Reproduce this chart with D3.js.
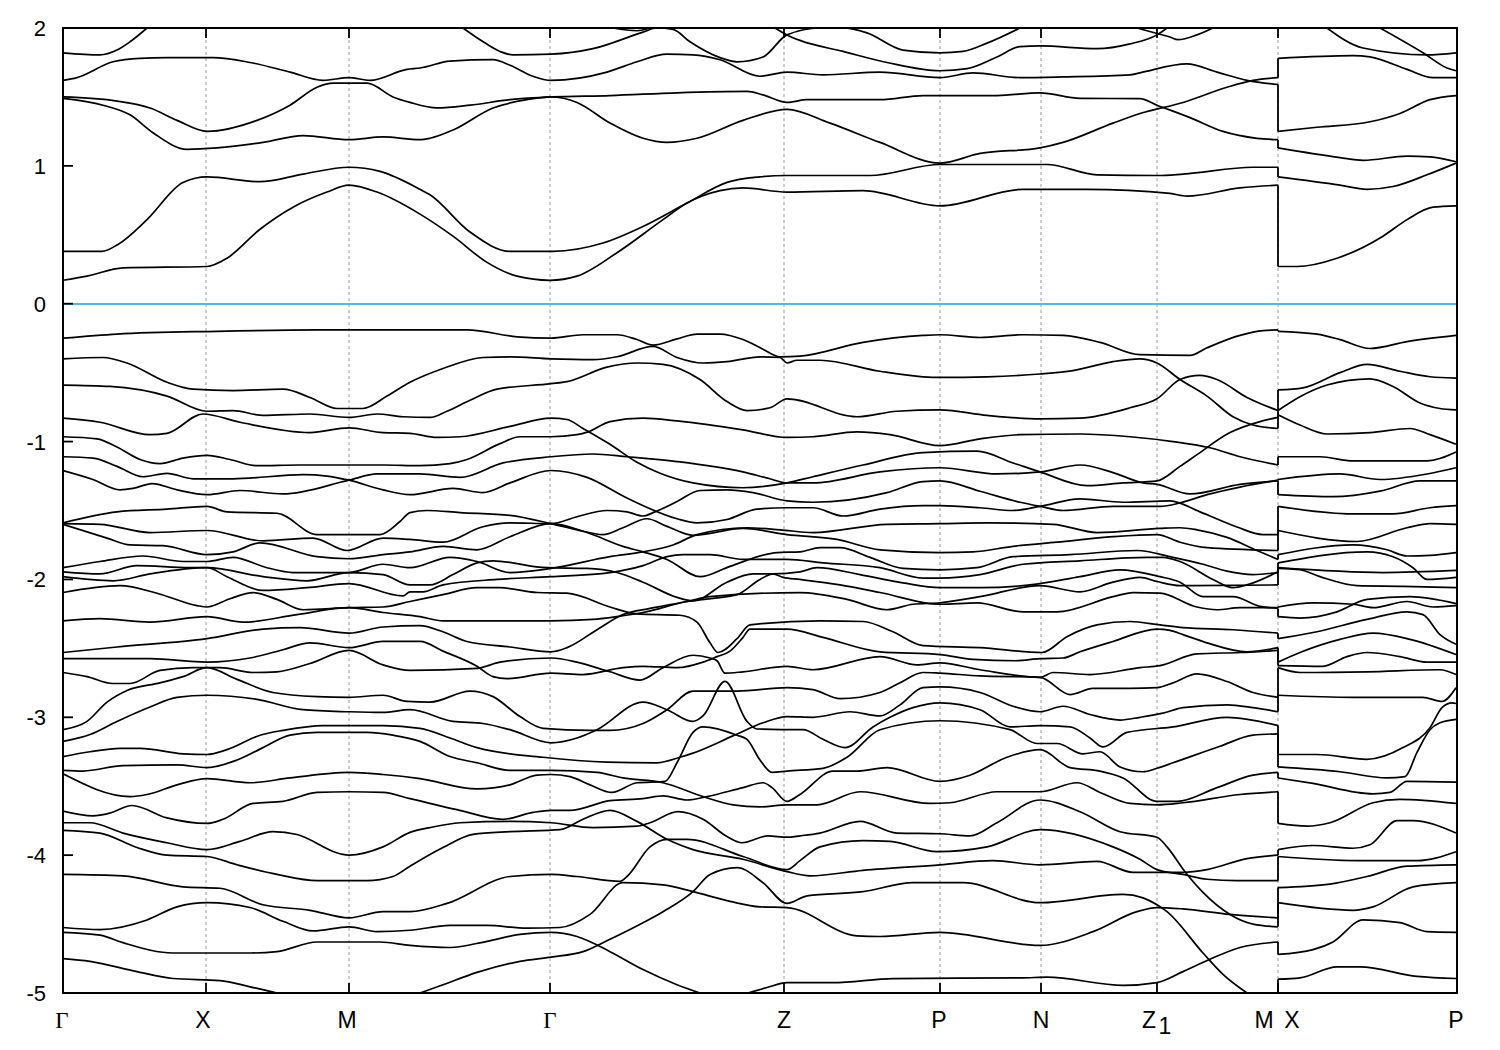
<!DOCTYPE html>
<html><head><meta charset="utf-8">
<script src="https://cdn.jsdelivr.net/npm/d3@7"></script>
<style>html,body{margin:0;background:#fff}svg{display:block}</style></head>
<body><div id="chart"></div>
<script>
// k = distance along the path, E = energy
const kTicks=[0,143,286,487,721,877,978,1094,1215];
const kLabels=["Γ","X","M","Γ","Z","P","N","Z","M"];
const eTicks=[2,1,0,-1,-2,-3,-4,-5];
const kJump=1215, kEnd=1393;
const c1=[[0,.17],[24,.2],[60,.26],[144,.27],[164,.33],[197,.54],[230,.7],[264,.81],[286,.86],[314,.81],[357,.65],[390,.49],[424,.3],[454,.2],[487,.17],[514,.2],[554,.37],[600,.61],[624,.73],[657,.82],[680,.84],[724,.81],[800,.82],[877,.71],[960,.83],[1024,.83],[1107,.8],[1124,.78],[1177,.84],[1215,.86]];
const c2=[[0,.38],[39,.38],[55,.43],[84,.61],[120,.88],[144,.92],[197,.885],[240,.94],[286,.99],[317,.96],[357,.83],[367,.79],[407,.52],[447,.38],[490,.38],[540,.44],[580,.56],[624,.73],[664,.88],[697,.92],[724,.93],[807,.93],[877,1.01],[984,1.01],[1034,.935],[1094,.93],[1120,.94],[1190,.99],[1215,.99]];
const c3=[[0,1.49],[40,1.44],[67,1.37],[90,1.24],[124,1.12],[154,1.13],[200,1.17],[240,1.22],[286,1.19],[320,1.21],[357,1.19],[367,1.2],[390,1.26],[430,1.42],[464,1.48],[488,1.5],[514,1.46],[547,1.31],[580,1.2],[604,1.17],[634,1.2],[680,1.33],[724,1.41],[767,1.31],[817,1.17],[877,1.02],[917,1.09],[977,1.13],[1000,1.17],[1050,1.31],[1077,1.38],[1120,1.46],[1164,1.57],[1190,1.62],[1215,1.64]];
const c4=[[0,1.5],[54,1.47],[87,1.42],[114,1.33],[144,1.25],[194,1.33],[227,1.44],[254,1.57],[270,1.6],[304,1.6],[330,1.5],[347,1.46],[374,1.42],[407,1.44],[447,1.48],[488,1.5],[547,1.51],[614,1.53],[684,1.54],[700,1.515],[724,1.46],[744,1.48],[817,1.48],[860,1.51],[934,1.51],[977,1.53],[1017,1.49],[1077,1.487],[1094,1.44],[1127,1.35],[1160,1.25],[1194,1.2],[1215,1.19]];
const c5=[[0,1.62],[14,1.64],[50,1.755],[77,1.78],[104,1.785],[150,1.785],[187,1.75],[227,1.68],[260,1.62],[286,1.64],[307,1.62],[344,1.7],[357,1.71],[387,1.76],[430,1.77],[447,1.73],[470,1.65],[488,1.62],[544,1.68],[574,1.755],[604,1.81],[630,1.805],[657,1.77],[697,1.65],[724,1.68],[760,1.66],[817,1.68],[877,1.64],[910,1.675],[957,1.64],[1000,1.645],[1067,1.66],[1077,1.675],[1124,1.74],[1154,1.68],[1184,1.62],[1215,1.59]];
const c6a=[[0,1.82],[37,1.805],[54,1.84],[67,1.9],[84,2]];
const c6b=[[400,2],[417,1.915],[437,1.83],[450,1.805],[488,1.81],[530,1.85],[580,1.97],[594,2],[610,1.99],[627,1.9],[657,1.785],[674,1.755],[700,1.79],[724,1.95],[757,2],[780,2],[804,1.965],[840,1.84],[877,1.82],[900,1.83],[924,1.89],[957,2]];
const c7=[[712,2],[724,1.95],[737,1.91],[780,1.83],[824,1.75],[877,1.69],[904,1.705],[934,1.79],[957,1.865],[977,1.87],[1034,1.85],[1067,1.885],[1094,1.95],[1104,2]];
const c8=[[1074,2],[1094,1.96],[1107,1.935],[1115,1.915],[1134,1.95],[1150,2]];
const c9=[[550,2],[574,1.98],[587,2]];
const v1=[[0,-.25],[54,-.22],[154,-.2],[254,-.19],[404,-.19],[454,-.24],[488,-.25],[520,-.225],[554,-.225],[574,-.26],[590,-.3],[614,-.255],[634,-.22],[657,-.22],[680,-.26],[700,-.33],[717,-.385],[737,-.38],[800,-.28],[860,-.23],[877,-.225],[917,-.245],[960,-.225],[1000,-.23],[1037,-.28],[1077,-.37],[1127,-.375],[1144,-.32],[1177,-.23],[1200,-.195],[1215,-.19]];
const v2=[[0,-.4],[40,-.39],[64,-.43],[104,-.57],[130,-.62],[170,-.63],[220,-.62],[247,-.68],[274,-.76],[300,-.76],[324,-.67],[347,-.57],[380,-.47],[420,-.39],[447,-.385],[488,-.4],[530,-.406],[554,-.385],[590,-.31],[614,-.39],[640,-.43],[664,-.42],[697,-.385],[717,-.39],[724,-.43],[734,-.41],[757,-.41],[817,-.49],[860,-.53],[877,-.535],[924,-.53],[977,-.51],[1010,-.485],[1050,-.42],[1077,-.4],[1094,-.43],[1117,-.55],[1144,-.67],[1170,-.82],[1190,-.88],[1215,-.905]];
const v3=[[0,-.59],[47,-.6],[104,-.67],[144,-.78],[170,-.775],[200,-.81],[247,-.8],[286,-.825],[314,-.8],[340,-.82],[367,-.825],[384,-.78],[407,-.7],[434,-.62],[488,-.58],[504,-.565],[544,-.46],[574,-.43],[600,-.44],[637,-.55],[664,-.71],[684,-.775],[707,-.755],[724,-.69],[794,-.82],[834,-.78],[877,-.77],[924,-.81],[977,-.835],[1017,-.83],[1067,-.755],[1094,-.69],[1117,-.55],[1137,-.52],[1154,-.55],[1184,-.68],[1215,-.775]];
const v4=[[0,-.83],[37,-.86],[87,-.95],[104,-.94],[140,-.8],[177,-.86],[247,-.935],[286,-.9],[320,-.935],[347,-.94],[374,-.97],[397,-.965],[447,-.89],[488,-.83],[504,-.84],[520,-.905],[547,-1.02],[574,-1.15],[597,-1.23],[630,-1.3],[680,-1.335],[724,-1.3],[750,-1.255],[800,-1.17],[860,-1.08],[914,-1.07],[950,-1.155],[977,-1.22],[1024,-1.32],[1060,-1.3],[1094,-1.285],[1117,-1.18],[1134,-1.095],[1167,-.935],[1197,-.855],[1215,-.825]];
const v5=[[0,-.965],[34,-.98],[54,-1.04],[77,-1.13],[97,-1.16],[120,-1.12],[144,-1.1],[167,-1.13],[194,-1.175],[237,-1.17],[320,-1.17],[357,-1.175],[387,-1.16],[404,-1.13],[437,-1.015],[457,-.965],[488,-.965],[514,-.95],[525,-.93],[547,-.855],[580,-.83],[614,-.85],[680,-.915],[724,-.97],[750,-.965],[794,-.93],[827,-.95],[877,-1.03],[917,-.98],[957,-.95],[1017,-.945],[1067,-.965],[1110,-1],[1147,-1.045],[1177,-1.11],[1215,-1.17]];
const v6=[[0,-1.11],[30,-1.12],[54,-1.18],[80,-1.255],[104,-1.23],[130,-1.27],[170,-1.27],[240,-1.24],[264,-1.25],[286,-1.28],[320,-1.35],[347,-1.385],[390,-1.34],[420,-1.37],[447,-1.3],[488,-1.21],[524,-1.26],[564,-1.41],[614,-1.56],[634,-1.59],[664,-1.565],[694,-1.49],[724,-1.48],[750,-1.48],[780,-1.54],[817,-1.49],[860,-1.465],[877,-1.465],[917,-1.48],[950,-1.5],[977,-1.47],[1017,-1.415],[1060,-1.44],[1107,-1.43],[1137,-1.51],[1174,-1.62],[1200,-1.675],[1215,-1.675]];
const v7=[[0,-1.21],[30,-1.275],[57,-1.35],[70,-1.34],[89,-1.305],[114,-1.35],[144,-1.385],[177,-1.355],[220,-1.38],[286,-1.28],[314,-1.235],[357,-1.235],[397,-1.26],[440,-1.155],[488,-1.11],[530,-1.09],[564,-1.11],[614,-1.145],[680,-1.22],[707,-1.27],[724,-1.3],[750,-1.3],[817,-1.22],[877,-1.19],[934,-1.235],[977,-1.22],[1017,-1.17],[1050,-1.225],[1080,-1.3],[1094,-1.31],[1127,-1.38],[1177,-1.31],[1215,-1.285]];
const v8=[[0,-1.59],[54,-1.51],[104,-1.49],[144,-1.47],[164,-1.51],[214,-1.52],[254,-1.675],[317,-1.675],[337,-1.58],[347,-1.515],[364,-1.5],[397,-1.515],[447,-1.535],[488,-1.595],[514,-1.64],[540,-1.675],[560,-1.625],[584,-1.56],[604,-1.615],[630,-1.68],[680,-1.63],[724,-1.675],[774,-1.71],[817,-1.785],[877,-1.805],[910,-1.8],[950,-1.76],[994,-1.73],[1050,-1.69],[1094,-1.675],[1117,-1.73],[1144,-1.77],[1215,-1.79]];
const v9=[[0,-1.595],[37,-1.6],[87,-1.66],[144,-1.645],[200,-1.72],[250,-1.7],[284,-1.79],[320,-1.7],[347,-1.71],[380,-1.73],[419,-1.62],[447,-1.59],[488,-1.595],[514,-1.545],[544,-1.5],[564,-1.51],[580,-1.54],[592,-1.51],[614,-1.435],[637,-1.355],[664,-1.35],[690,-1.37],[724,-1.43],[750,-1.44],[824,-1.37],[860,-1.29],[877,-1.285],[917,-1.36],[957,-1.44],[977,-1.47],[1000,-1.5],[1050,-1.47],[1097,-1.47],[1117,-1.445],[1144,-1.385],[1177,-1.33],[1215,-1.28]];
const v10=[[0,-1.6],[44,-1.7],[67,-1.75],[100,-1.755],[144,-1.82],[170,-1.8],[197,-1.735],[254,-1.835],[286,-1.85],[320,-1.82],[347,-1.8],[380,-1.76],[414,-1.785],[447,-1.69],[488,-1.595],[524,-1.66],[560,-1.76],[580,-1.8],[604,-1.855],[637,-1.98],[667,-1.905],[714,-1.805],[737,-1.8],[757,-1.77],[777,-1.77],[807,-1.84],[840,-1.92],[877,-1.93],[914,-1.915],[950,-1.835],[1007,-1.82],[1074,-1.79],[1110,-1.84],[1140,-1.89],[1164,-1.94],[1190,-1.965],[1215,-1.95]];
const v11=[[0,-1.915],[37,-1.87],[80,-1.83],[120,-1.87],[144,-1.87],[170,-1.84],[204,-1.915],[230,-1.95],[286,-1.95],[320,-1.89],[347,-1.915],[387,-1.84],[414,-1.87],[447,-1.95],[488,-1.92],[547,-1.835],[580,-1.8],[610,-1.75],[634,-1.675],[684,-1.625],[717,-1.64],[750,-1.66],[824,-1.6],[877,-1.595],[924,-1.59],[990,-1.6],[1034,-1.66],[1097,-1.63],[1117,-1.625],[1134,-1.64],[1164,-1.695],[1194,-1.79],[1215,-1.855]];
const v12=[[0,-1.945],[37,-1.96],[74,-1.9],[127,-1.915],[144,-1.915],[200,-1.98],[244,-2.01],[286,-1.95],[320,-1.965],[347,-2.04],[367,-2.04],[390,-1.965],[414,-1.88],[430,-1.865],[484,-1.915],[524,-1.92],[554,-1.95],[580,-2.02],[614,-2.13],[630,-2.155],[664,-2.02],[690,-1.96],[710,-1.96],[737,-1.945],[754,-1.915],[797,-1.965],[840,-2.025],[877,-2.06],[917,-2.06],[967,-2.04],[1017,-1.98],[1057,-1.93],[1097,-1.98],[1117,-2.02],[1140,-2.125],[1170,-2.125],[1197,-2.195],[1215,-2.21]];
const v13=[[0,-1.98],[50,-2.01],[87,-1.96],[144,-1.915],[164,-1.98],[200,-2.08],[244,-2.06],[286,-2.03],[340,-2.12],[347,-2.09],[360,-2.09],[380,-2.04],[434,-2],[488,-1.98],[547,-1.95],[580,-1.9],[604,-1.835],[620,-1.82],[647,-1.82],[680,-1.855],[724,-1.855],[760,-1.88],[817,-1.915],[860,-1.99],[877,-1.99],[917,-1.965],[960,-1.89],[1017,-1.865],[1084,-1.84],[1100,-1.84],[1117,-1.87],[1150,-2],[1170,-2.06],[1184,-2.04],[1215,-1.945]];
const v14=[[0,-2.095],[57,-2.045],[94,-2.1],[134,-2.19],[144,-2.2],[167,-2.14],[190,-2.095],[214,-2.145],[240,-2.22],[286,-2.205],[320,-2.2],[347,-2.16],[380,-2.11],[414,-2.06],[437,-2.06],[474,-2.095],[504,-2.1],[547,-2.2],[574,-2.25],[617,-2.26],[634,-2.31],[647,-2.46],[655,-2.53],[674,-2.43],[687,-2.33],[757,-2.3],[800,-2.305],[830,-2.38],[860,-2.48],[917,-2.495],[979,-2.53],[1004,-2.415],[1034,-2.33],[1067,-2.305],[1097,-2.33],[1120,-2.35],[1170,-2.365],[1215,-2.39]];
const v15=[[0,-2.3],[37,-2.285],[87,-2.31],[144,-2.27],[180,-2.31],[234,-2.255],[286,-2.205],[320,-2.24],[357,-2.27],[380,-2.3],[488,-2.3],[530,-2.29],[554,-2.27],[580,-2.24],[624,-2.16],[674,-2.11],[697,-2],[710,-1.96],[720,-1.985],[737,-2],[777,-2.04],[817,-2.095],[877,-2.18],[914,-2.17],[960,-2.235],[994,-2.235],[1050,-2.125],[1070,-2.095],[1097,-2.1],[1134,-2.2],[1154,-2.22],[1177,-2.205],[1215,-2.205]];
const v16=[[0,-2.53],[54,-2.49],[144,-2.43],[200,-2.36],[237,-2.35],[286,-2.39],[320,-2.345],[357,-2.335],[380,-2.38],[404,-2.45],[447,-2.49],[488,-2.525],[504,-2.495],[534,-2.365],[560,-2.255],[587,-2.21],[624,-2.16],[647,-2.125],[737,-2.095],[784,-2.145],[824,-2.22],[850,-2.18],[877,-2.17],[917,-2.125],[977,-2.045],[1017,-2.09],[1050,-2.02],[1077,-1.985],[1094,-2.015],[1117,-2.045],[1215,-2.04]];
const v17a=[[0,-2.575],[87,-2.575],[144,-2.6],[187,-2.57],[220,-2.51],[247,-2.46],[286,-2.495],[320,-2.45],[357,-2.45],[380,-2.52],[414,-2.63],[430,-2.705],[444,-2.72],[488,-2.68],[520,-2.69],[560,-2.64],[580,-2.63],[614,-2.64],[640,-2.6],[654,-2.56],[667,-2.52],[680,-2.42],[687,-2.36],[724,-2.36],[760,-2.42],[817,-2.525],[877,-2.545],[910,-2.58],[952,-2.59],[977,-2.575],[1000,-2.57],[1017,-2.525],[1050,-2.45],[1094,-2.36],[1107,-2.37],[1120,-2.4],[1144,-2.46],[1184,-2.525],[1215,-2.495]];
const v18=[[0,-2.675],[24,-2.705],[50,-2.755],[67,-2.755],[97,-2.66],[130,-2.64],[157,-2.64],[190,-2.675],[214,-2.67],[247,-2.61],[286,-2.515],[320,-2.62],[347,-2.66],[414,-2.645],[437,-2.6],[488,-2.57],[514,-2.6],[547,-2.67],[577,-2.73],[600,-2.64],[630,-2.55],[647,-2.57],[654,-2.59],[662,-2.68],[680,-2.67],[724,-2.63],[750,-2.655],[817,-2.56],[854,-2.62],[877,-2.605],[917,-2.655],[977,-2.71],[990,-2.675],[1027,-2.69],[1077,-2.64],[1097,-2.625],[1134,-2.54],[1177,-2.53],[1215,-2.515]];
const v19=[[0,-3.09],[24,-3.03],[44,-2.89],[64,-2.805],[97,-2.75],[120,-2.705],[144,-2.64],[174,-2.725],[210,-2.82],[254,-2.85],[286,-2.855],[320,-2.84],[344,-2.885],[367,-2.89],[407,-2.81],[430,-2.85],[457,-2.995],[480,-3.08],[527,-3.095],[547,-3.095],[580,-3.045],[604,-2.945],[630,-2.81],[674,-2.81],[724,-2.785],[750,-2.8],[777,-2.865],[817,-2.82],[837,-2.75],[860,-2.675],[877,-2.68],[917,-2.7],[977,-2.71],[1007,-2.835],[1030,-2.79],[1067,-2.79],[1094,-2.785],[1110,-2.75],[1134,-2.685],[1164,-2.74],[1190,-2.82],[1215,-2.855]];
const v20=[[0,-3.175],[27,-3.125],[54,-3.03],[87,-2.925],[114,-2.855],[144,-2.84],[194,-2.87],[240,-2.945],[286,-2.96],[320,-2.965],[347,-2.945],[390,-3.03],[420,-3.045],[447,-3.09],[488,-3.185],[514,-3.15],[534,-3.09],[580,-2.89],[604,-2.945],[630,-3.03],[640,-2.99],[662,-2.74],[684,-3.03],[694,-3.085],[737,-3.09],[740,-3.09],[760,-3.16],[782,-3.22],[810,-3.07],[827,-3],[850,-2.93],[877,-2.895],[917,-2.945],[947,-3.07],[977,-3.06],[1007,-3.07],[1027,-3.15],[1040,-3.215],[1064,-3.11],[1110,-3.07],[1164,-3],[1215,-3.06]];
const v21=[[0,-3.41],[67,-3.575],[84,-3.56],[114,-3.49],[144,-3.445],[187,-3.475],[227,-3.44],[286,-3.4],[320,-3.415],[357,-3.445],[414,-3.52],[447,-3.49],[474,-3.42],[488,-3.415],[507,-3.43],[527,-3.49],[549,-3.545],[574,-3.475],[602,-3.465],[614,-3.33],[630,-3.11],[640,-3.07],[674,-3.13],[684,-3.16],[697,-3.31],[709,-3.4],[724,-3.39],[760,-3.37],[784,-3.29],[817,-3.09],[877,-3.025],[947,-3.09],[974,-3.19],[994,-3.19],[1020,-3.265],[1037,-3.25],[1057,-3.36],[1080,-3.395],[1094,-3.37],[1110,-3.33],[1157,-3.21],[1190,-3.13],[1215,-3.12]];
const v22=[[0,-3.285],[27,-3.25],[57,-3.225],[77,-3.225],[120,-3.265],[144,-3.27],[164,-3.235],[197,-3.13],[220,-3.095],[260,-3.06],[320,-3.06],[357,-3.08],[387,-3.15],[414,-3.22],[480,-3.29],[544,-3.325],[594,-3.33],[617,-3.29],[630,-3.26],[670,-3.135],[700,-3.04],[724,-2.995],[750,-3],[787,-2.96],[817,-2.99],[837,-2.91],[860,-2.785],[877,-2.78],[917,-2.82],[950,-2.92],[977,-2.96],[1000,-2.92],[1027,-2.98],[1057,-3.02],[1077,-3],[1100,-2.97],[1120,-2.93],[1164,-2.91],[1190,-2.93],[1215,-2.96]];
const v23=[[0,-3.385],[20,-3.39],[60,-3.35],[114,-3.345],[144,-3.365],[174,-3.31],[200,-3.22],[227,-3.13],[254,-3.11],[304,-3.11],[330,-3.13],[357,-3.175],[387,-3.285],[414,-3.33],[447,-3.385],[488,-3.385],[534,-3.4],[560,-3.44],[600,-3.475],[640,-3.575],[670,-3.635],[697,-3.65],[724,-3.635],[754,-3.635],[797,-3.54],[867,-3.625],[887,-3.62],[934,-3.54],[977,-3.54],[1014,-3.475],[1037,-3.545],[1067,-3.625],[1094,-3.635],[1120,-3.62],[1177,-3.56],[1215,-3.54]];
const v24=[[0,-3.68],[30,-3.715],[47,-3.695],[69,-3.64],[104,-3.73],[144,-3.77],[160,-3.74],[190,-3.625],[220,-3.61],[254,-3.545],[286,-3.54],[320,-3.545],[347,-3.59],[394,-3.67],[440,-3.74],[470,-3.69],[488,-3.675],[507,-3.675],[547,-3.605],[580,-3.59],[600,-3.57],[624,-3.6],[644,-3.575],[680,-3.51],[700,-3.475],[709,-3.51],[724,-3.61],[737,-3.56],[770,-3.39],[794,-3.39],[824,-3.365],[877,-3.465],[907,-3.42],[944,-3.29],[977,-3.235],[1007,-3.365],[1037,-3.39],[1060,-3.44],[1094,-3.61],[1114,-3.61],[1154,-3.51],[1190,-3.42],[1215,-3.4]];
const v25=[[0,-3.765],[27,-3.765],[60,-3.84],[104,-3.91],[144,-3.96],[177,-3.9],[210,-3.83],[234,-3.85],[277,-3.99],[286,-4],[320,-3.94],[347,-3.835],[367,-3.8],[397,-3.765],[447,-3.755],[488,-3.765],[530,-3.8],[574,-3.79],[587,-3.765],[615,-3.685],[640,-3.74],[664,-3.865],[679,-3.91],[705,-3.86],[724,-3.87],[737,-3.86],[757,-3.84],[797,-3.755],[834,-3.84],[877,-3.845],[907,-3.86],[934,-3.765],[977,-3.6],[1017,-3.685],[1057,-3.83],[1094,-3.87],[1104,-3.94],[1122,-4.12],[1140,-4.27],[1167,-4.43],[1190,-4.5],[1215,-4.52]];
const v26=[[0,-3.82],[37,-3.84],[74,-3.945],[104,-4],[144,-4.01],[174,-4.07],[214,-4.14],[254,-4.185],[304,-4.185],[330,-4.155],[347,-4.08],[380,-3.945],[410,-3.85],[447,-3.83],[497,-3.815],[520,-3.74],[547,-3.675],[574,-3.755],[604,-3.885],[630,-3.96],[680,-4.03],[724,-4.12],[747,-4.15],[800,-4.11],[877,-4.07],[930,-4.04],[977,-4.07],[1034,-4.045],[1070,-4.125],[1120,-4.125],[1144,-4.105],[1184,-4.025],[1215,-4]];
const v27=[[0,-4.14],[60,-4.15],[120,-4.23],[157,-4.24],[200,-4.36],[247,-4.4],[286,-4.455],[320,-4.41],[347,-4.41],[384,-4.35],[447,-4.155],[488,-4.14],[514,-4.155],[557,-4.19],[564,-4.155],[587,-3.94],[604,-3.885],[624,-3.885],[680,-4.01],[724,-4.105],[737,-4.04],[757,-3.94],[800,-3.895],[827,-3.9],[874,-3.975],[924,-3.94],[977,-3.815],[1050,-3.94],[1077,-4.03],[1094,-4.105],[1120,-4.14],[1144,-4.175],[1174,-4.185],[1215,-4.185]];
const v28=[[0,-4.525],[37,-4.54],[84,-4.47],[114,-4.375],[144,-4.345],[187,-4.38],[220,-4.48],[250,-4.55],[286,-4.52],[314,-4.555],[347,-4.545],[387,-4.51],[424,-4.51],[464,-4.53],[497,-4.525],[527,-4.43],[560,-4.2],[600,-4.215],[630,-4.265],[667,-4.335],[697,-4.375],[724,-4.38],[794,-4.585],[817,-4.59],[877,-4.56],[977,-4.655],[1030,-4.555],[1074,-4.41],[1094,-4.38],[1120,-4.39],[1167,-4.43],[1215,-4.455]];
const v29a=[[0,-4.75],[27,-4.77],[74,-4.845],[110,-4.895],[157,-4.91],[187,-4.955],[214,-5]];
const v29b=[[357,-5],[380,-4.94],[414,-4.85],[457,-4.77],[488,-4.74],[520,-4.7],[547,-4.61],[580,-4.49],[600,-4.41],[630,-4.265],[647,-4.14],[674,-4.09],[700,-4.2],[724,-4.35],[744,-4.295],[800,-4.265],[850,-4.2],[900,-4.2],[977,-4.345],[1060,-4.285],[1080,-4.31],[1094,-4.36],[1104,-4.41],[1140,-4.71],[1160,-4.865],[1184,-5]];
const v30=[[0,-4.56],[37,-4.58],[60,-4.635],[110,-4.71],[187,-4.71],[214,-4.7],[254,-4.63],[317,-4.63],[347,-4.655],[387,-4.67],[424,-4.625],[457,-4.575],[488,-4.56],[514,-4.59],[547,-4.7],[580,-4.83],[614,-4.94],[637,-5]];
const v31=[[685,-5],[704,-4.96],[724,-4.925],[770,-4.925],[830,-4.895],[960,-4.89],[984,-4.885],[1060,-4.945],[1094,-4.925],[1120,-4.845],[1147,-4.755],[1177,-4.67],[1215,-4.63]];
const r1=[[1215,.27],[1234,.27],[1274,.33],[1320,.49],[1344,.61],[1370,.7],[1393,.71]];
const r2=[[1215,.92],[1277,.86],[1304,.83],[1330,.85],[1364,.935],[1393,1.02]];
const r3=[[1215,1.13],[1277,1.06],[1300,1.04],[1344,1.07],[1367,1.065],[1393,1.03]];
const r4=[[1215,1.25],[1254,1.28],[1307,1.32],[1337,1.38],[1367,1.48],[1393,1.51]];
const r5=[[1215,1.78],[1290,1.8],[1307,1.79],[1344,1.7],[1370,1.64],[1393,1.64]];
const r6=[[1264,2],[1300,1.855],[1364,1.805],[1393,1.82]];
const r7=[[1317,2],[1360,1.82],[1384,1.71],[1393,1.69]];
const r8=[[1215,-.2],[1254,-.22],[1277,-.26],[1307,-.325],[1344,-.275],[1393,-.23]];
const r9=[[1215,-.625],[1240,-.61],[1277,-.5],[1304,-.44],[1337,-.49],[1367,-.53],[1393,-.54]];
const r10=[[1215,-.775],[1237,-.675],[1264,-.59],[1307,-.545],[1330,-.6],[1357,-.72],[1377,-.76],[1393,-.77]];
const r11=[[1215,-.805],[1237,-.88],[1264,-.945],[1307,-.935],[1347,-.905],[1367,-.95],[1393,-1.02]];
const r12=[[1215,-1.11],[1257,-1.11],[1290,-1.14],[1364,-1.14],[1393,-1.075]];
const r13=[[1215,-1.275],[1277,-1.235],[1317,-1.275],[1364,-1.235],[1393,-1.19]];
const r14=[[1215,-1.385],[1270,-1.4],[1317,-1.36],[1357,-1.285],[1393,-1.285]];
const r15=[[1215,-1.47],[1290,-1.525],[1330,-1.525],[1367,-1.48],[1393,-1.465]];
const r16=[[1215,-1.645],[1294,-1.725],[1344,-1.625],[1367,-1.595],[1393,-1.6]];
const r17=[[1215,-1.82],[1290,-1.75],[1324,-1.785],[1344,-1.83],[1367,-1.825],[1393,-1.805]];
const r18=[[1215,-1.88],[1304,-1.8],[1330,-1.835],[1350,-1.915],[1364,-2],[1393,-1.985]];
const r19=[[1215,-1.915],[1320,-1.95],[1393,-1.935]];
const r20=[[1215,-1.92],[1237,-1.93],[1257,-1.98],[1294,-2.045],[1340,-2.05],[1393,-2.06]];
const r21=[[1215,-2.2],[1250,-2.17],[1290,-2.18],[1310,-2.205],[1344,-2.16],[1370,-2.2],[1393,-2.19]];
const r22=[[1215,-2.27],[1237,-2.28],[1274,-2.235],[1304,-2.145],[1347,-2.125],[1393,-2.175]];
const r23=[[1215,-2.43],[1250,-2.385],[1304,-2.29],[1344,-2.235],[1360,-2.255],[1377,-2.4],[1393,-2.47]];
const r24=[[1215,-2.6],[1237,-2.53],[1277,-2.435],[1310,-2.39],[1347,-2.435],[1393,-2.545]];
const r25=[[1215,-2.625],[1260,-2.63],[1284,-2.56],[1304,-2.53],[1337,-2.56],[1364,-2.6],[1393,-2.6]];
const r26=[[1215,-2.64],[1237,-2.675],[1304,-2.67],[1377,-2.655],[1393,-2.69]];
const r27=[[1215,-2.84],[1290,-2.855],[1360,-2.855],[1379,-2.885],[1393,-2.785]];
const r28=[[1215,-3.27],[1254,-3.27],[1304,-3.305],[1340,-3.22],[1367,-3.075],[1379,-2.93],[1389,-2.895],[1393,-2.9]];
const r29=[[1215,-3.36],[1277,-3.395],[1324,-3.44],[1342,-3.43],[1354,-3.255],[1367,-3.09],[1377,-3.04],[1393,-3.015]];
const r30=[[1215,-3.44],[1250,-3.48],[1310,-3.555],[1327,-3.545],[1344,-3.465],[1393,-3.47]];
const r31=[[1215,-3.77],[1244,-3.79],[1267,-3.765],[1310,-3.62],[1337,-3.595],[1393,-3.625]];
const r32=[[1215,-3.96],[1250,-3.93],[1290,-3.95],[1307,-3.925],[1334,-3.75],[1350,-3.75],[1393,-3.84]];
const r33=[[1215,-4.01],[1294,-4.04],[1354,-4.04],[1393,-3.975]];
const r34=[[1215,-4.235],[1267,-4.21],[1304,-4.155],[1344,-4.08],[1393,-4.07]];
const r35=[[1215,-4.345],[1290,-4.4],[1310,-4.375],[1350,-4.23],[1393,-4.2]];
const r36=[[1215,-4.72],[1250,-4.685],[1270,-4.63],[1300,-4.47],[1337,-4.49],[1364,-4.555],[1393,-4.56]];
const r37=[[1215,-4.9],[1237,-4.89],[1274,-4.81],[1297,-4.81],[1354,-4.88],[1393,-4.895]];
// energies at M and X joined by the vertical step at the path break
const jumpFrom=[.86,.99,1.19,1.59,1.64,-.19,-.77,-.825,-.905,-1.17,-1.28,-1.285,-1.675,-1.79,-1.855,-1.945,-1.95,-2.04,-2.205,-2.21,-2.39,-2.495,-2.515,-2.855,-2.96,-3.06,-3.12,-3.4,-3.54,-4,-4.185,-4.455,-4.52,-4.63,-5];
const jumpTo=[.27,.92,1.13,1.25,1.78,-.2,-.625,-.775,-.805,-1.11,-1.275,-1.385,-1.47,-1.645,-1.82,-1.88,-1.915,-1.92,-2.2,-2.27,-2.43,-2.6,-2.625,-2.64,-2.84,-3.27,-3.36,-3.44,-3.77,-3.96,-4.01,-4.235,-4.345,-4.72,-4.9];
const bands=[c1,c2,c3,c4,c5,c6a,c6b,c7,c8,c9,v1,v2,v3,v4,v5,v6,v7,v8,v9,v10,v11,v12,v13,v14,v15,v16,v17a,v18,v19,v20,v21,v22,v23,v24,v25,v26,v27,v28,v29a,v29b,v30,v31,r1,r2,r3,r4,r5,r6,r7,r8,r9,r10,r11,r12,r13,r14,r15,r16,r17,r18,r19,r20,r21,r22,r23,r24,r25,r26,r27,r28,r29,r30,r31,r32,r33,r34,r35,r36,r37];

const W=1500,H=1050,m={l:63,r:43,t:28,b:57};
const svg=d3.select("#chart").append("svg").attr("width",W).attr("height",H);
const x=d3.scaleLinear().domain([0,1394]).range([m.l,W-m.r]);
const y=d3.scaleLinear().domain([-5,2]).range([H-m.b,m.t]);
svg.append("clipPath").attr("id","plot").append("rect").attr("x",m.l).attr("y",m.t).attr("width",W-m.l-m.r).attr("height",H-m.t-m.b);
const g=svg.append("g").attr("clip-path","url(#plot)");
g.selectAll(".grid").data(kTicks).join("line").attr("x1",d=>x(d)).attr("x2",d=>x(d)).attr("y1",m.t).attr("y2",H-m.b)
 .attr("stroke","#999").attr("stroke-width",1).attr("stroke-dasharray","3,3");
g.append("line").attr("x1",m.l).attr("x2",W-m.r).attr("y1",y(0)).attr("y2",y(0)).attr("stroke","#56b4e9").attr("stroke-width",2).attr("shape-rendering","crispEdges");
const line=d3.line().x(d=>x(d[0])).y(d=>y(d[1])).curve(d3.curveMonotoneX);
g.selectAll(".band").data(bands).join("path").attr("d",line).attr("fill","none").attr("stroke","#000").attr("stroke-width",1.7);
g.selectAll(".jump").data(jumpFrom).join("line").attr("x1",x(kJump)).attr("x2",x(kJump)).attr("y1",d=>y(d)).attr("y2",(d,i)=>y(jumpTo[i]))
 .attr("stroke","#000").attr("stroke-width",1.8);
// frame and ticks
svg.append("rect").attr("x",m.l).attr("y",m.t).attr("width",W-m.l-m.r).attr("height",H-m.t-m.b).attr("fill","none").attr("stroke","#000").attr("stroke-width",2);
const tk=svg.append("g").attr("stroke","#000").attr("stroke-width",1.8);
kTicks.slice(1).forEach(k=>{
 tk.append("line").attr("x1",x(k)).attr("x2",x(k)).attr("y1",m.t).attr("y2",m.t+10);
 tk.append("line").attr("x1",x(k)).attr("x2",x(k)).attr("y1",H-m.b).attr("y2",H-m.b-10);
});
eTicks.forEach(e=>tk.append("line").attr("x1",m.l).attr("x2",m.l+10).attr("y1",y(e)).attr("y2",y(e)));
const sans="'Liberation Sans',Arial,sans-serif", serif="'Liberation Serif',serif";
svg.selectAll(".yl").data(eTicks).join("text").attr("x",46).attr("y",d=>y(d)+8).attr("text-anchor","end")
 .attr("font-family",sans).attr("font-size",22).text(d=>d);
const labelX=[62,203,347,550,784,939,1041,1149,1264];
svg.selectAll(".xl").data(kLabels).join("text").attr("x",(d,i)=>labelX[i]).attr("y",1028).attr("text-anchor","middle")
 .attr("font-family",d=>d==="Γ"?serif:sans).attr("font-size",23).text(d=>d);
svg.append("text").attr("x",1165).attr("y",1034).attr("text-anchor","middle").attr("font-family",sans).attr("font-size",23).text("1");
svg.append("text").attr("x",1292).attr("y",1028).attr("text-anchor","middle").attr("font-family",sans).attr("font-size",23).text("X");
svg.append("text").attr("x",1456).attr("y",1028).attr("text-anchor","middle").attr("font-family",sans).attr("font-size",23).text("P");
</script></body></html>
